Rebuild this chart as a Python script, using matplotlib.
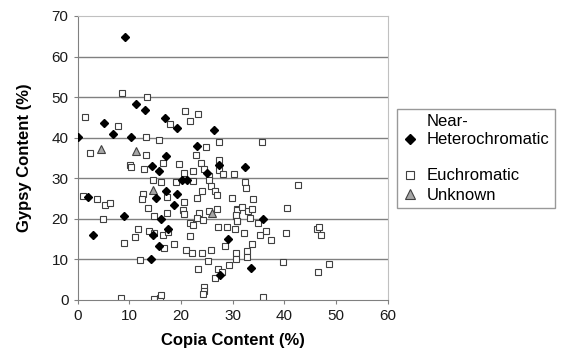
import matplotlib.pyplot as plt

# Near-Heterochromatic (copia %, gypsy %)
near_x = [9.2, 11.2, 13.0, 5.2, 6.9, 0.0, 10.3, 16.9, 19.3, 26.3, 23.1, 17.1,
          14.4, 15.8, 27.4, 25.1, 20.2, 21.1, 2.1, 17.1, 15.2, 19.2, 18.7, 8.9,
          16.2, 2.9, 14.5, 17.4, 15.8, 29.0, 14.2, 27.6, 32.3, 35.8, 33.5]
near_y = [64.9, 48.4, 46.8, 43.7, 40.9, 40.1, 40.2, 44.8, 42.5, 41.9, 38.0, 35.6,
          32.9, 31.7, 33.2, 31.3, 29.6, 29.6, 25.5, 26.9, 25.2, 26.1, 23.3, 20.7,
          19.9, 16.1, 16.1, 17.4, 13.4, 15.1, 10.1, 6.2, 32.7, 19.9, 7.9]

# Euchromatic
eu_x = [8.5, 13.5, 1.45, 7.8, 13.2, 15.7, 20.7, 23.2, 21.8, 17.8, 27.4, 24.9,
        2.4, 13.2, 22.9, 27.4, 35.6, 10.2, 10.3, 12.9, 16.6, 19.6, 22.3, 23.9,
        24.5, 27.4, 25.5, 28.1, 30.3, 20.5, 14.5, 16.2, 19.1, 22.4, 25.5, 25.8,
        26.5, 26.9, 24.1, 23.1, 29.8, 1.1, 3.7, 5.3, 6.2, 12.7, 12.4, 17.2,
        20.6, 13.7, 17.2, 20.3, 20.5, 23.4, 25.5, 26.9, 30.8, 5.0, 14.8, 21.8,
        22.3, 23.1, 24.3, 30.7, 30.8, 11.6, 11.1, 9.0, 13.8, 14.7, 16.6, 17.4,
        21.8, 16.7, 18.7, 21.0, 22.1, 24.0, 25.8, 28.5, 27.2, 28.9, 30.5, 12.0,
        25.3, 23.2, 27.2, 27.9, 26.5, 29.3, 30.7, 30.7, 24.5, 24.5, 24.3, 8.4,
        14.7, 16.0, 16.2, 32.4, 32.5, 42.7, 34.0, 40.5, 30.8, 31.8, 33.0, 33.7,
        30.7, 33.4, 30.9, 34.8, 32.2, 35.2, 36.4, 37.4, 40.3, 46.3, 46.6, 47.1,
        33.8, 32.8, 32.8, 39.7, 48.7, 46.4, 35.9]
eu_y = [50.9, 50.0, 45.0, 42.8, 40.1, 39.5, 46.5, 45.8, 44.0, 43.3, 39.0, 37.7,
        36.2, 35.7, 35.7, 34.6, 38.9, 33.3, 32.7, 32.4, 33.7, 33.5, 31.7, 33.7,
        32.3, 32.1, 30.6, 31.0, 31.0, 31.3, 29.6, 29.2, 29.2, 29.4, 29.6, 28.0,
        26.9, 25.8, 26.9, 25.2, 25.2, 25.6, 24.8, 23.4, 24.0, 26.1, 24.8, 25.4,
        24.2, 22.7, 21.5, 22.1, 21.3, 21.5, 21.9, 22.5, 22.5, 20.0, 20.7, 18.9,
        18.4, 20.3, 19.6, 20.8, 19.4, 17.4, 15.6, 14.1, 17.0, 16.5, 16.1, 16.7,
        15.7, 12.7, 13.8, 12.4, 11.6, 11.7, 12.4, 13.2, 18.0, 18.0, 17.4, 9.9,
        9.7, 7.6, 7.6, 7.0, 5.5, 8.7, 11.6, 10.1, 3.3, 2.1, 1.5, 0.4,
        0.2, 0.4, 1.2, 29.0, 27.5, 28.3, 24.8, 22.7, 22.3, 22.8, 21.9, 22.5,
        20.9, 20.3, 19.4, 18.9, 16.4, 16.1, 16.9, 14.9, 16.4, 17.6, 17.9, 15.9,
        13.9, 12.0, 10.7, 9.4, 8.9, 6.8, 0.8]

# Unknown
unk_x = [4.5, 11.2, 14.5, 26.0]
unk_y = [37.2, 36.8, 27.1, 21.5]

x_ticks = [0, 10, 20, 30, 40, 50, 60]
y_ticks = [0, 10, 20, 30, 40, 50, 60, 70]

plt.rcParams['font.family'] = ['Liberation Sans', 'DejaVu Sans']

fig = plt.figure(figsize=(5.79, 3.6), dpi=100)
ax = fig.add_axes([0.134, 0.1667, 0.536, 0.789])

for yv in y_ticks[1:-1]:
    ax.axhline(yv, color='#808080', lw=1.0, zorder=1)

ax.plot(near_x, near_y, 'D', ms=3.8, color='black', ls='none', zorder=3,
        label='Near-\nHeterochromatic')
ax.plot(eu_x, eu_y, 's', ms=5, mfc='white', mec='#404040', mew=0.8, ls='none',
        zorder=2, label='Euchromatic')
ax.plot(unk_x, unk_y, '^', ms=5.5, mfc='#a6a6a6', mec='#404040', mew=0.8,
        ls='none', zorder=2, label='Unknown')

ax.set_xlim(0, 60)
ax.set_ylim(0, 70)
ax.set_xticks(x_ticks)
ax.set_yticks(y_ticks)
ax.tick_params(labelsize=11, color='#808080', length=3, labelcolor='#1a1a1a')
for s in ['left', 'bottom']:
    ax.spines[s].set_color('#808080')
for s in ['top', 'right']:
    ax.spines[s].set_color('#c0c0c0')

ax.set_xlabel('Copia Content (%)', fontsize=12, fontweight='bold', labelpad=7)
ax.set_ylabel('Gypsy Content (%)', fontsize=12, fontweight='bold', labelpad=14)

leg = ax.legend(loc='upper left', bbox_to_anchor=(1.03, 0.674), fontsize=12,
                frameon=True, fancybox=False, edgecolor='#808080',
                handlelength=0.8, handletextpad=0.6, borderpad=0.35,
                labelspacing=0.25, borderaxespad=0)
leg.get_frame().set_linewidth(1.0)
hs = leg.legend_handles
hs[0].set_markersize(5.5)
hs[1].set_markersize(6)
hs[2].set_markersize(6.5)
# extra room under the two-line first entry, as in the original
leg.get_texts()[0].set_text('Near-\nHeterochromatic\n')

fig.savefig('out.png', dpi=100)
